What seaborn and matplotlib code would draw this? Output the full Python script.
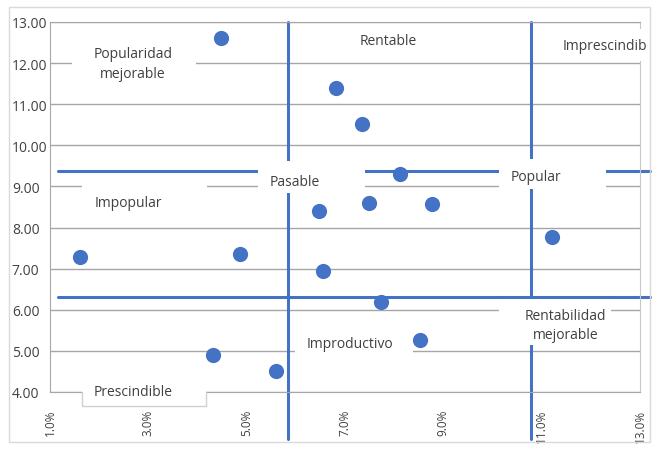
import numpy as np
import pandas as pd
import matplotlib
matplotlib.use('Agg')
import matplotlib.pyplot as plt
import seaborn as sns
from matplotlib.patches import Rectangle

# Margin (%) vs popularity
margin_pct = [4.48, 6.82, 7.35, 8.12, 6.47, 7.49, 8.77, 11.21, 1.61, 4.86, 6.55, 7.73, 8.52, 4.31, 5.60]
popularity = [12.61, 11.39, 10.52, 9.30, 8.40, 8.60, 8.57, 7.77, 7.28, 7.35, 6.94, 6.19, 5.26, 4.90, 4.51]

# quadrant divider lines
vline_x = [5.84, 10.78]
hline_y = [9.37, 6.31]

x_ticks = [1, 3, 5, 7, 9, 11, 13]
y_ticks = [4, 5, 6, 7, 8, 9, 10, 11, 12, 13]

# labels: text, text x, text y, box (x0, y0, x1, y1)
labels = [
    ('Popularidad\nmejorable', 2.69, 12.00, (1.45, 11.52, 3.97, 12.44)),
    ('Rentable', 7.87, 12.56, (6.69, 12.15, 9.03, 12.88)),
    ('Imprescindib', 11.43, 12.42, (11.27, 12.05, 13.20, 12.83)),
    ('Pasable', 5.98, 9.13, (5.23, 8.84, 7.41, 9.62)),
    ('Popular', 10.88, 9.23, (10.13, 8.94, 12.31, 9.67)),
    ('Impopular', 2.59, 8.62, (1.65, 8.16, 4.19, 9.22)),
    ('Rentabilidad\nmejorable', 11.49, 5.63, (10.13, 5.14, 12.40, 6.26)),
    ('Improductivo', 7.10, 5.19, (5.98, 4.80, 8.38, 5.58)),
    ('Prescindible', 2.69, 4.02, (1.65, 3.66, 4.17, 4.36)),
]

df = pd.DataFrame({'margin': margin_pct, 'pop': popularity})

sns.set_style('white')
plt.rcParams['font.family'] = ['Open Sans', 'DejaVu Sans']

blue = '#4472C4'
grid_c = '#a6a6a6'
text_c = '#404040'

fig = plt.figure(figsize=(6.59, 4.56), dpi=100)
ax = fig.add_axes([50 / 659, 1 - 393 / 456, 590 / 659, 370 / 456])

# outer chart border
fig.patches.append(Rectangle((9 / 659, 1 - 443 / 456), 641 / 659, 435 / 456,
                             transform=fig.transFigure, fill=False,
                             edgecolor='#d9d9d9', linewidth=1, zorder=0))

ax.set_xlim(1, 13)
ax.set_ylim(4, 13)
ax.set_yticks(y_ticks)
ax.set_yticklabels([f'{v:.2f}' for v in y_ticks])
ax.set_xticks(x_ticks)
ax.set_xticklabels([f'{v:.1f}%' for v in x_ticks], rotation=90)
ax.yaxis.grid(True, color=grid_c, linewidth=1)
ax.xaxis.grid(False)
ax.set_axisbelow(True)
for s in ['left', 'bottom', 'top']:
    ax.spines[s].set_color(grid_c)
ax.spines['right'].set_color('#c8c8c8')
ax.tick_params(axis='both', labelcolor=text_c, length=4, width=1,
               direction='out', color=grid_c)
ax.tick_params(axis='x', pad=8, labelsize=8.5)
# y labels are left aligned in the reference
ax.tick_params(axis='y', pad=23.5, labelsize=10)
for lab in ax.get_yticklabels():
    lab.set_horizontalalignment('left')

for x in vline_x:
    ax.plot([x, x], [2.86, 13.0], color=blue, linewidth=2.2, clip_on=False, zorder=2)
for y in hline_y:
    ax.plot([1.16, 13.2], [y, y], color=blue, linewidth=2.2, clip_on=False, zorder=2)

for txt, tx, ty, (x0, y0, x1, y1) in labels:
    ax.add_patch(Rectangle((x0, y0), x1 - x0, y1 - y0, facecolor='white',
                           edgecolor='none', clip_on=False, zorder=3))
    if txt == 'Prescindible':
        # the part of this box below the plot area shows a faint border
        ax.plot([x0, x0, x1, x1], [4.0, y0, y0, 4.0], color='#d0d0d0',
                linewidth=1, clip_on=False, zorder=3.5)
    ha = 'left' if txt == 'Imprescindib' else 'center'
    ax.text(tx, ty, txt, ha=ha, va='center', fontsize=10, color=text_c,
            linespacing=1.45, zorder=4, clip_on=False)

sns.scatterplot(data=df, x='margin', y='pop', ax=ax, s=120, color=blue,
                edgecolor=blue, linewidth=0, zorder=5, clip_on=False)
ax.set_xlabel('')
ax.set_ylabel('')

fig.savefig('out.png', dpi=100)
